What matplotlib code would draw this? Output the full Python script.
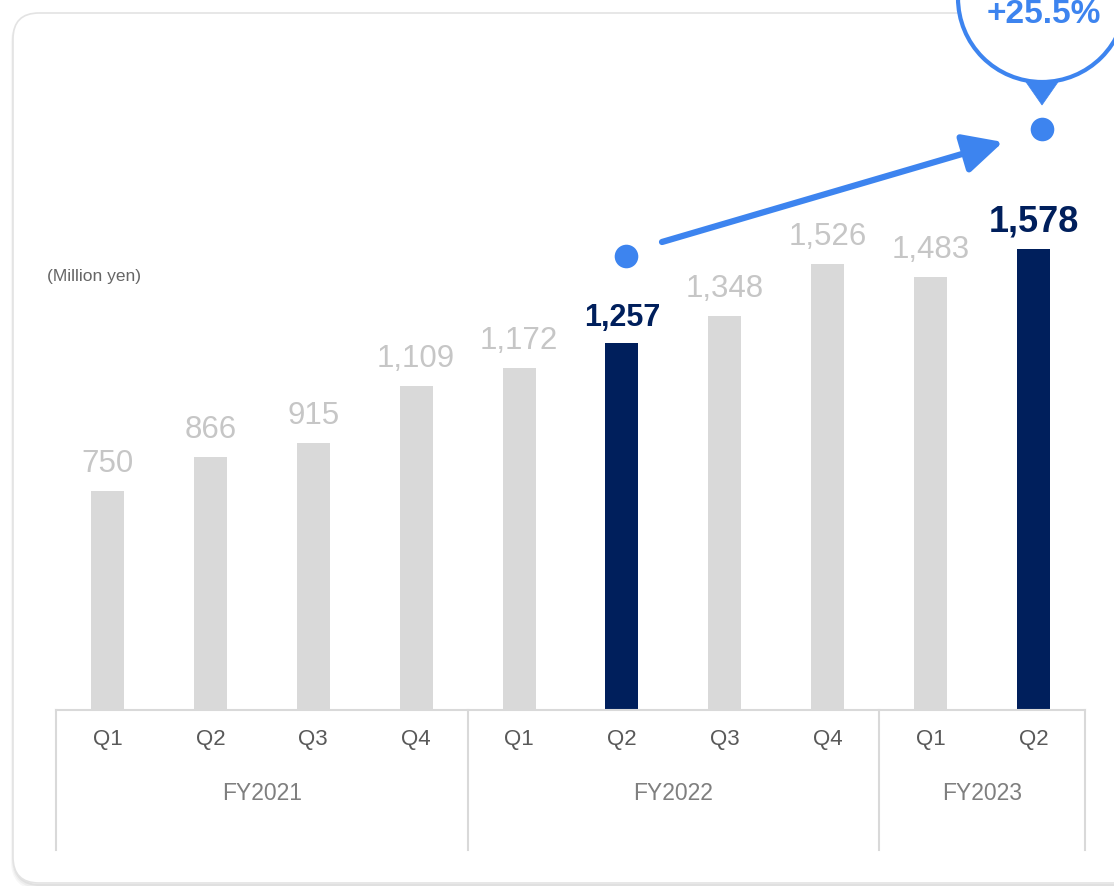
import matplotlib
matplotlib.use("Agg")
import matplotlib.pyplot as plt
from matplotlib.patches import FancyBboxPatch, Circle, Polygon, FancyArrowPatch

plt.rcParams['font.family'] = ['Liberation Sans', 'DejaVu Sans']

# Quarterly values (million yen)
quarters = ["Q1", "Q2", "Q3", "Q4", "Q1", "Q2", "Q3", "Q4", "Q1", "Q2"]
values = [750, 866, 915, 1109, 1172, 1257, 1348, 1526, 1483, 1578]
fiscal_years = ["FY2021", "FY2022", "FY2023"]
fy_sizes = [4, 4, 2]
highlight = [5, 9]

GRAY_BAR = "#d9d9d9"
GRAY_LABEL = "#c6c6c6"
NAVY = "#001f5c"
BLUE = "#3d84ef"
AXIS = "#d9d9d9"
TICK = "#595959"

W, H = 1114, 886
fig = plt.figure(figsize=(W / 100, H / 100), dpi=100)
fig.patch.set_facecolor("white")

# Background overlay in pixel coordinates
bg = fig.add_axes([0, 0, 1, 1], zorder=0)
bg.set_xlim(0, W)
bg.set_ylim(H, 0)
bg.axis("off")

# Card with soft shadow
for i, a in enumerate([0.05, 0.04, 0.03]):
    bg.add_patch(FancyBboxPatch((13 + 1, 13 + 2 + i), 1200, 870,
                                boxstyle="round,pad=0,rounding_size=26",
                                fc="none", ec="black", lw=1.5 + 1.5 * i, alpha=a))
bg.add_patch(FancyBboxPatch((13, 13), 1200, 870,
                            boxstyle="round,pad=0,rounding_size=26",
                            fc="white", ec="#e3e3e3", lw=1.2))

# Bar chart axes: x from px 56 to 1085, baseline at px 710, top at px 0
px_per_unit = 0.2921
ax_left, ax_right = 56, 1085
base_px = 710
ax = fig.add_axes([ax_left / W, (H - base_px) / H, (ax_right - ax_left) / W, base_px / H],
                  zorder=2)
ax.patch.set_alpha(0)
ax.set_xlim(-0.5, len(values) - 0.5)
ax.set_ylim(0, base_px / px_per_unit)
ax.axis("off")

x = list(range(len(values)))
colors = [NAVY if i in highlight else GRAY_BAR for i in x]
ax.bar(x, values, width=0.32, color=colors, zorder=2)

for i, v in enumerate(values):
    if i in highlight:
        size = 26 if i == highlight[-1] else 22
        ax.annotate(f"{v:,}", (i, v), xytext=(0, 10), textcoords="offset pixels",
                    ha="center", va="bottom", fontsize=size, fontweight="bold",
                    color=NAVY)
    else:
        ax.annotate(f"{v:,}", (i, v), xytext=(0, 12), textcoords="offset pixels",
                    ha="center", va="bottom", fontsize=22.5, color=GRAY_LABEL)

# Category axis: baseline, group separators, quarter and fiscal-year labels
unit = 1 / px_per_unit
ax.plot([-0.5, len(values) - 0.5], [0, 0], color=AXIS, lw=1.5, clip_on=False, zorder=3)
bounds = [-0.5]
for s in fy_sizes:
    bounds.append(bounds[-1] + s)
for b in bounds:
    ax.plot([b, b], [0, -140 * unit], color=AXIS, lw=1.5, clip_on=False, zorder=3)
for i, q in enumerate(quarters):
    ax.text(i, -30 * unit, q, ha="center", va="center", fontsize=16, color=TICK)
for k, fy in enumerate(fiscal_years):
    mid = (bounds[k] + bounds[k + 1]) / 2
    ax.text(mid, -84 * unit, fy, ha="center", va="center", fontsize=16.5, color="#7f7f7f")

ax.text(-0.585, 1485, "(Million yen)", ha="left", va="center", fontsize=12.5, color="#666666")

# Growth marker: dots above the two highlighted quarters and connecting arrow
d0, d1 = highlight
ax.plot([d0 + 0.04], [values[d0] + 298], "o", color=BLUE, ms=17, mec="none",
        zorder=4, clip_on=False)
ax.plot([d1 + 0.08], [values[d1] + 412], "o", color=BLUE, ms=17, mec="none",
        zorder=4, clip_on=False)

fg = fig.add_axes([0, 0, 1, 1], zorder=3)
fg.set_xlim(0, W)
fg.set_ylim(H, 0)
fg.axis("off")
fg.patch.set_alpha(0)

fg.add_patch(FancyArrowPatch((662, 242), (1003, 142),
                             arrowstyle="-|>,head_length=24,head_width=12",
                             color=BLUE, lw=4.5, shrinkA=0, shrinkB=0,
                             mutation_scale=1))

# Callout bubble with growth rate
growth = (values[d1] / values[d0] - 1) * 100
fg.add_patch(Circle((1042, -2), 84, fc="white", ec=BLUE, lw=3))
fg.add_patch(Polygon([(1026, 82), (1058, 82), (1042, 105)], closed=True,
                     fc=BLUE, ec=BLUE, lw=0.5))
fg.text(1044, 14, f"+{growth:.1f}%", ha="center", va="center", fontsize=24,
        fontweight="bold", color=BLUE)

fig.savefig("out.png", dpi=100)
